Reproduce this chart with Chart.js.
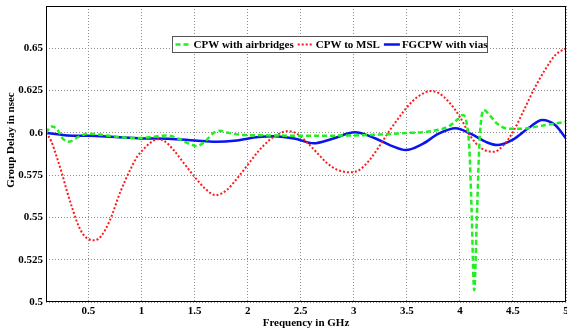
<!DOCTYPE html>
<html>
<head>
<meta charset="utf-8">
<script src="https://cdn.jsdelivr.net/npm/chart.js@4"></script>
<style>
  html, body { margin: 0; padding: 0; background: #fff; }
  #wrap { width: 567px; height: 333px; }
</style>
</head>
<body>
<div id="wrap"><canvas id="delayChart" width="567" height="333"></canvas></div>
<script>
// frequency in GHz / group delay in nsec
const airbridgeFreq = [0.1, 0.15, 0.2, 0.26, 0.32, 0.4, 0.5, 0.6, 0.75, 0.9, 1.0, 1.1, 1.24, 1.35, 1.45, 1.52, 1.6, 1.68, 1.74, 1.82, 1.95, 2.2, 2.5, 3.0, 3.5, 3.75, 3.9, 3.98, 4.03, 4.06, 4.09, 4.11, 4.135, 4.16, 4.185, 4.225, 4.28, 4.35, 4.45, 4.6, 4.75, 4.9, 5.0];
const airbridgeDelay = [0.600, 0.6038, 0.6025, 0.5965, 0.5948, 0.5975, 0.5995, 0.599, 0.5978, 0.597, 0.597, 0.5975, 0.5985, 0.5965, 0.5935, 0.5922, 0.595, 0.600, 0.6012, 0.600, 0.5988, 0.5985, 0.5983, 0.5985, 0.5999, 0.6012, 0.604, 0.608, 0.6105, 0.607, 0.59, 0.555, 0.507, 0.55, 0.595, 0.6135, 0.6105, 0.6055, 0.6025, 0.6025, 0.604, 0.6055, 0.6066];

const mslFreq = [0.1, 0.15, 0.2, 0.25, 0.3, 0.35, 0.4, 0.45, 0.5, 0.56, 0.62, 0.7, 0.8, 0.9, 0.96, 1.0, 1.08, 1.15, 1.22, 1.3, 1.4, 1.5, 1.6, 1.7, 1.8, 1.9, 2.0, 2.1, 2.2, 2.3, 2.37, 2.45, 2.55, 2.65, 2.75, 2.85, 2.97, 3.05, 3.15, 3.25, 3.35, 3.45, 3.55, 3.65, 3.72, 3.8, 3.9, 4.0, 4.1, 4.2, 4.32, 4.4, 4.5, 4.6, 4.7, 4.8, 4.9, 5.0];
const mslDelay = [0.600, 0.595, 0.586, 0.576, 0.565, 0.555, 0.546, 0.540, 0.5372, 0.5365, 0.539, 0.548, 0.565, 0.579, 0.586, 0.589, 0.594, 0.5962, 0.595, 0.590, 0.582, 0.574, 0.567, 0.5632, 0.566, 0.573, 0.581, 0.589, 0.5955, 0.5995, 0.601, 0.600, 0.595, 0.5885, 0.582, 0.578, 0.5767, 0.578, 0.584, 0.593, 0.6025, 0.611, 0.6185, 0.6232, 0.6247, 0.6235, 0.618, 0.6095, 0.598, 0.591, 0.5888, 0.592, 0.6005, 0.613, 0.626, 0.637, 0.646, 0.650];

const viasFreq = [0.1, 0.3, 0.5, 0.75, 1.0, 1.25, 1.5, 1.7, 1.9, 2.1, 2.25, 2.45, 2.62, 2.8, 3.01, 3.2, 3.35, 3.49, 3.65, 3.8, 3.96, 4.1, 4.25, 4.35, 4.5, 4.65, 4.776, 4.9, 5.0];
const viasDelay = [0.600, 0.5985, 0.5983, 0.5975, 0.5967, 0.5965, 0.5955, 0.5947, 0.5955, 0.5975, 0.598, 0.5965, 0.5938, 0.5965, 0.6003, 0.5968, 0.5925, 0.5898, 0.5935, 0.5995, 0.6027, 0.5995, 0.5945, 0.5928, 0.596, 0.603, 0.6076, 0.6045, 0.5967];

const xTicks = [0.5, 1, 1.5, 2, 2.5, 3, 3.5, 4, 4.5, 5];
const yTicks = [0.5, 0.525, 0.55, 0.575, 0.6, 0.625, 0.65];

const seriesNames = ['CPW with airbridges', 'CPW to MSL', 'FGCPW with vias'];
const xTitle = 'Frequency in GHz';
const yTitle = 'Group Delay in nsec';

const FONT_CSS = 'bold 11px "Liberation Serif", "Times New Roman", serif';
const FONT = { family: '"Liberation Serif", "Times New Roman", serif', size: 11, weight: 'bold' };

const toPoints = (xs, ys) => xs.map((x, i) => ({ x: x, y: ys[i] }));

// frame, y title and legend box drawn like the original (legend sits inside the plot)
const framePlugin = {
  id: 'frameAndLegend',
  afterDatasetsDraw(chart) {
    const { ctx, chartArea: a } = chart;
    ctx.save();
    ctx.strokeStyle = '#000';
    ctx.lineWidth = 1;
    ctx.setLineDash([]);
    ctx.strokeRect(a.left + 0.5, a.top + 0.5, a.right - a.left - 1, a.bottom - a.top - 1);

    // y title (sits a bit above the middle in the original)
    ctx.fillStyle = '#000';
    ctx.font = FONT_CSS;
    ctx.textAlign = 'center';
    ctx.textBaseline = 'middle';
    ctx.translate(11, 140);
    ctx.rotate(-Math.PI / 2);
    ctx.fillText(yTitle, 0, 0);
    ctx.setTransform(1, 0, 0, 1, 0, 0);

    // legend
    const bx = 172.5, by = 36.5, bw = 315, bh = 16;
    ctx.fillStyle = '#fff';
    ctx.fillRect(bx, by, bw, bh);
    ctx.strokeStyle = '#555';
    ctx.strokeRect(bx, by, bw, bh);
    ctx.textAlign = 'left';
    let x = bx + 3;
    const yMid = by + bh / 2;
    chart.data.datasets.forEach(ds => {
      ctx.strokeStyle = ds.borderColor;
      ctx.lineWidth = ds.borderWidth;
      ctx.setLineDash(ds.borderDash || []);
      ctx.beginPath();
      ctx.moveTo(x, yMid);
      ctx.lineTo(x + 16, yMid);
      ctx.stroke();
      ctx.setLineDash([]);
      ctx.fillStyle = '#000';
      ctx.fillText(ds.label, x + 18, yMid + 0.5);
      x += 18 + ctx.measureText(ds.label).width + 4;
    });
    ctx.restore();
  }
};

const ctx = document.getElementById('delayChart').getContext('2d');
new Chart(ctx, {
  type: 'line',
  data: {
    datasets: [
      {
        label: seriesNames[0],
        data: toPoints(airbridgeFreq, airbridgeDelay),
        borderColor: '#22ee22',
        borderWidth: 2.5,
        borderDash: [5, 3],
        pointRadius: 0,
        cubicInterpolationMode: 'monotone'
      },
      {
        label: seriesNames[1],
        data: toPoints(mslFreq, mslDelay),
        borderColor: '#ff1a1a',
        borderWidth: 2,
        borderDash: [2, 2],
        pointRadius: 0,
        cubicInterpolationMode: 'monotone'
      },
      {
        label: seriesNames[2],
        data: toPoints(viasFreq, viasDelay),
        borderColor: '#0a14ee',
        borderWidth: 2.5,
        pointRadius: 0,
        cubicInterpolationMode: 'monotone'
      }
    ]
  },
  options: {
    responsive: false,
    animation: false,
    layout: { padding: { top: 6, right: 1, left: 0, bottom: 0 } },
    plugins: {
      legend: { display: false },
      tooltip: { enabled: false }
    },
    scales: {
      x: {
        type: 'linear',
        min: 0.1,
        max: 5,
        afterBuildTicks: s => { s.ticks = xTicks.map(v => ({ value: v })); },
        afterFit: s => { s.height = 31; s.paddingLeft = 0; s.paddingRight = 0; },
        grid: { color: '#8c8c8c', drawTicks: false },
        border: { display: false, dash: [1, 2] },
        ticks: { color: '#000', font: FONT, padding: 3, maxRotation: 0, callback: v => String(v) },
        title: { display: true, text: xTitle, color: '#000', font: FONT, padding: { top: 0, bottom: 3 } }
      },
      y: {
        min: 0.5,
        max: 0.675,
        afterBuildTicks: s => { s.ticks = yTicks.map(v => ({ value: v })); },
        afterFit: s => { s.width = 46; s.paddingTop = 0; s.paddingBottom = 0; },
        grid: { color: '#8c8c8c', drawTicks: false },
        border: { display: false, dash: [1, 2] },
        ticks: { color: '#000', font: FONT, padding: 3, callback: v => String(+v.toFixed(3)) },
        title: { display: false }
      }
    }
  },
  plugins: [framePlugin]
});
</script>
</body>
</html>
